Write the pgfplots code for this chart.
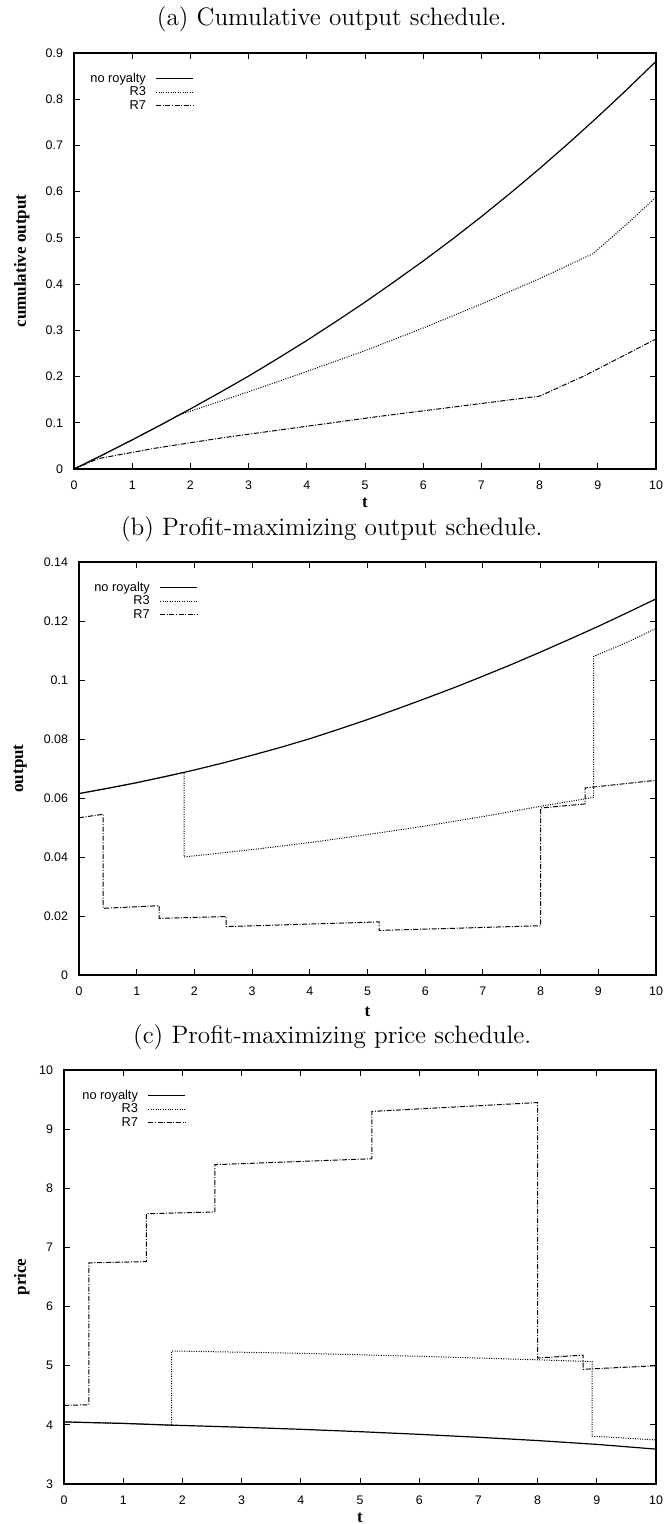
\documentclass[border=0pt]{standalone}
\usepackage{fontspec}
\usepackage{pgfplots}
\pgfplotsset{compat=1.18}
\newfontfamily\helv{Liberation Sans}
\newfontfamily\tms{Liberation Serif}

\pgfplotstableread{
t c
0 0
0.5 0.031
1 0.063
1.5 0.096
2 0.130
2.5 0.165
3 0.201
3.5 0.239
4 0.278
4.5 0.319
5 0.361
5.5 0.405
6 0.450
6.5 0.497
7 0.546
7.5 0.597
8 0.650
8.5 0.705
9 0.762
9.5 0.821
10 0.882
}\cumnone
\pgfplotstableread{
t c
0 0
0.5 0.031
1 0.063
1.5 0.096
1.82 0.118
2 0.125
3 0.167
4 0.211
5 0.256
6 0.305
7 0.357
8 0.412
8.92 0.466
9.5 0.530
10 0.588
}\cumthree
\pgfplotstableread{
t c
0 0
0.42 0.0226
1.39 0.0449
2.55 0.0675
5.2 0.1131
8.0 0.1576
8.77 0.2017
9.4 0.2423
10 0.2813
}\cumseven

\pgfplotstableread{
t q
0 0.0615
0.5 0.0633
1 0.0652
1.5 0.0673
1.82 0.0687
2 0.0695
2.5 0.0719
3 0.0745
3.5 0.0772
4 0.0801
4.5 0.0833
5 0.0866
5.5 0.0901
6 0.0937
6.5 0.0974
7 0.1013
7.5 0.1053
8 0.1095
8.5 0.1138
9 0.1182
9.5 0.1228
10 0.1275
}\outnone
\pgfplotstableread{
t q
0 0.0615
0.5 0.0633
1 0.0652
1.5 0.0673
1.82 0.0687
1.82 0.0400
3 0.0425
4 0.0449
5 0.0476
6 0.0505
7 0.0537
8 0.0572
8.92 0.0602
8.92 0.1080
9.5 0.1128
10 0.1175
}\outthree
\pgfplotstableread{
t q
0 0.0533
0.42 0.0545
0.42 0.0226
1.39 0.0235
1.39 0.0192
2.55 0.0198
2.55 0.0164
5.2 0.0180
5.2 0.0151
8.0 0.0167
8.0 0.0566
8.77 0.0580
8.77 0.0634
10 0.0660
}\outseven

\pgfplotstableread{
t p
0 4.05
1 4.025
1.82 3.995
2 3.99
3 3.96
4 3.925
5 3.885
6 3.84
7 3.79
8 3.735
9 3.67
10 3.59
}\prinone
\pgfplotstableread{
t p
0 4.05
1 4.025
1.82 3.995
1.82 5.25
4 5.21
6 5.16
8 5.10
8.92 5.07
8.92 3.81
10 3.745
}\prithree
\pgfplotstableread{
t p
0 4.33
0.42 4.34
0.42 6.74
1.39 6.76
1.39 7.57
2.55 7.60
2.55 8.40
5.2 8.50
5.2 9.30
8.0 9.45
8.0 5.13
8.77 5.18
8.77 4.94
10 5.00
}\priseven

\pgfplotsset{
  gp/.style={
    scale only axis,
    xmin=0, xmax=10,
    xtick={0,1,2,3,4,5,6,7,8,9,10},
    scaled ticks=false,
    axis line style={line width=0.8pt},
    every tick/.style={black, line width=0.5pt},
    major tick length=3pt,
    tick align=inside,
    xtick pos=both, ytick pos=both,
    /pgf/number format/fixed,
    /pgf/number format/assume math mode=true,
    ticklabel style={font=\helv\fontsize{6.2}{7}\selectfont},
    xticklabel style={yshift=-2.5pt},
    yticklabel style={xshift=-2pt},
    xlabel={t},
    xlabel style={at={(axis description cs:0.5,0)}, anchor=center, yshift=-17pt,
      inner sep=0pt, font=\tms\bfseries\fontsize{8.5}{10}\selectfont},
    every axis y label/.style={rotate=90, anchor=center, inner sep=0pt,
      font=\tms\bfseries\fontsize{8.5}{10}\selectfont},
    every axis title/.style={font=\fontsize{12.6}{15}\selectfont, anchor=base,
      yshift=13.5pt, inner sep=0pt},
    legend plot pos=right,
    legend cell align=right,
    legend style={draw=none, fill=none, anchor=north east, inner sep=0pt, outer sep=0pt,
      font=\helv\fontsize{6.4}{7}\selectfont, row sep=0pt,
      nodes={inner sep=0.4pt, text height=4.7pt, text depth=1.2pt},
      /tikz/every odd column/.append style={column sep=4.5pt}},
    legend image code/.code={\draw[##1] (0pt,0pt) -- (18.5pt,0pt);},
  },
  noroy/.style={black, line width=0.6pt},
  rthree/.style={black, line width=0.5pt, dash pattern=on 0.5pt off 0.7pt},
  rseven/.style={black, line width=0.5pt, dash pattern=on 2.5pt off 0.8pt on 0.5pt off 0.8pt},
}

\begin{document}
\begin{tikzpicture}
\useasboundingbox (0,0) rectangle (332pt,-762pt);

\begin{axis}[gp, at={(37pt,-234.5pt)}, anchor=south west, width=291pt, height=208pt,
  ymin=0, ymax=0.9, ytick={0,0.1,0.2,0.3,0.4,0.5,0.6,0.7,0.8,0.9},
  ylabel={cumulative output},
  ylabel style={at={(axis description cs:-0.0899,0.5)}},
  title={(a) Cumulative output schedule.},
  title style={at={(axis description cs:0.443,1)}},
  legend style={at={(axis description cs:0.206,0.954)}}]
\addplot[noroy] table[x=t,y=c] {\cumnone};
\addlegendentry{no royalty}
\addplot[rthree] table[x=t,y=c] {\cumthree};
\addlegendentry{R3}
\addplot[rseven] table[x=t,y=c] {\cumseven};
\addlegendentry{R7}
\end{axis}

\begin{axis}[gp, at={(39.5pt,-487.5pt)}, anchor=south west, width=288.5pt, height=206.5pt,
  ymin=0, ymax=0.14, ytick={0,0.02,0.04,0.06,0.08,0.1,0.12,0.14},
  ylabel={output},
  ylabel style={at={(axis description cs:-0.102,0.5)}},
  title={(b) Profit-maximizing output schedule.},
  title style={at={(axis description cs:0.438,1)}},
  xlabel style={yshift=-1.5pt},
  legend style={at={(axis description cs:0.206,0.954)}}]
\addplot[noroy] table[x=t,y=q] {\outnone};
\addlegendentry{no royalty}
\addplot[rthree] table[x=t,y=q] {\outthree};
\addlegendentry{R3}
\addplot[rseven] table[x=t,y=q] {\outseven};
\addlegendentry{R7}
\end{axis}

\begin{axis}[gp, at={(32pt,-742pt)}, anchor=south west, width=296pt, height=207pt,
  ymin=3, ymax=10, ytick={3,4,5,6,7,8,9,10},
  ylabel={price},
  ylabel style={at={(axis description cs:-0.0715,0.5)}},
  title={(c) Profit-maximizing price schedule.},
  title style={at={(axis description cs:0.453,1)}},
  legend style={at={(axis description cs:0.206,0.954)}}]
\addplot[noroy] table[x=t,y=p] {\prinone};
\addlegendentry{no royalty}
\addplot[rthree] table[x=t,y=p] {\prithree};
\addlegendentry{R3}
\addplot[rseven] table[x=t,y=p] {\priseven};
\addlegendentry{R7}
\end{axis}
\end{tikzpicture}
\end{document}
